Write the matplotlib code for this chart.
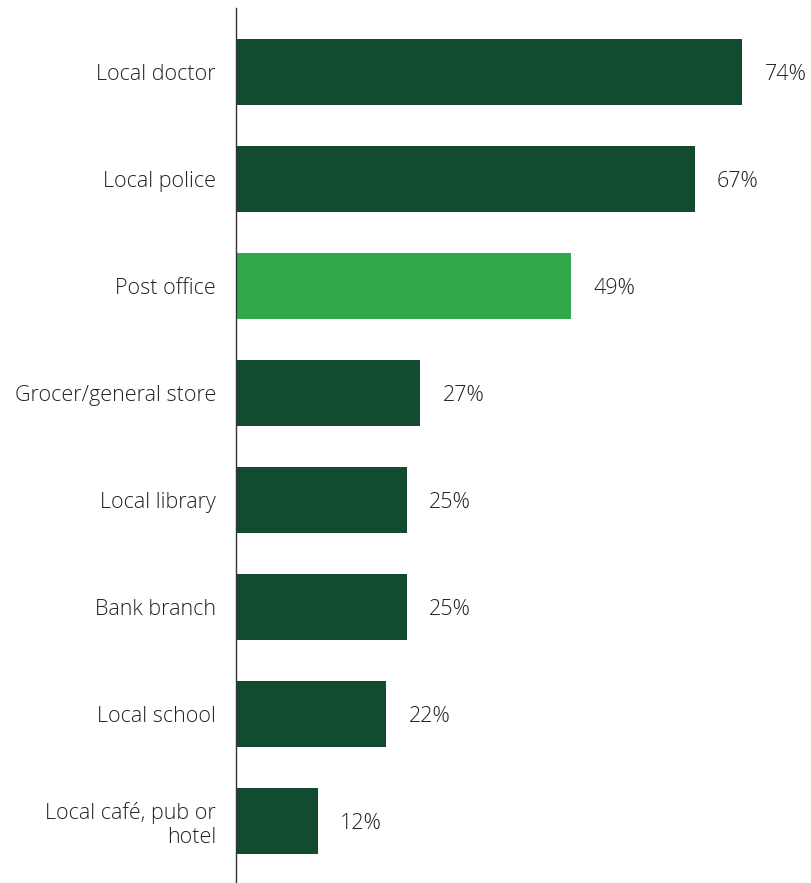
import matplotlib
matplotlib.use("Agg")
import matplotlib.pyplot as plt

categories = ["Local doctor", "Local police", "Post office", "Grocer/general store",
              "Local library", "Bank branch", "Local school", "Local café, pub or\nhotel"]
values = [74, 67, 49, 27, 25, 25, 22, 12]
highlight = "Post office"

DARK = "#124b30"
LIGHT = "#31a84b"
TEXT = "#222222"

plt.rcParams["font.family"] = ["Open Sans", "DejaVu Sans"]

fig = plt.figure(figsize=(8.11, 8.83), dpi=100)
ax = fig.add_axes([235.5 / 811, 0, 1 - 235.5 / 811, 1 - 8 / 883])

pos = list(range(len(categories)))
colors = [LIGHT if c == highlight else DARK for c in categories]
ax.barh(pos, values, height=0.617, color=colors)

for p, v in zip(pos, values):
    ax.annotate(f"{v}%", (v, p), xytext=(16, -1.5), textcoords="offset points",
                va="center", ha="left", fontsize=15.5, fontweight="light", color=TEXT)

ax.set_yticks(pos)
ax.set_yticklabels(categories, fontsize=15.5, fontweight="light", color=TEXT,
                   linespacing=1.2)
ax.tick_params(axis="y", length=0, pad=14)
ax.set_xticks([])
ax.set_xlim(0, 84.0)
ax.set_ylim(7.58, -0.6)

for s in ["top", "right", "bottom"]:
    ax.spines[s].set_visible(False)
ax.spines["left"].set_color("#333333")
ax.spines["left"].set_linewidth(1.0)

fig.savefig("out.png", dpi=100)
